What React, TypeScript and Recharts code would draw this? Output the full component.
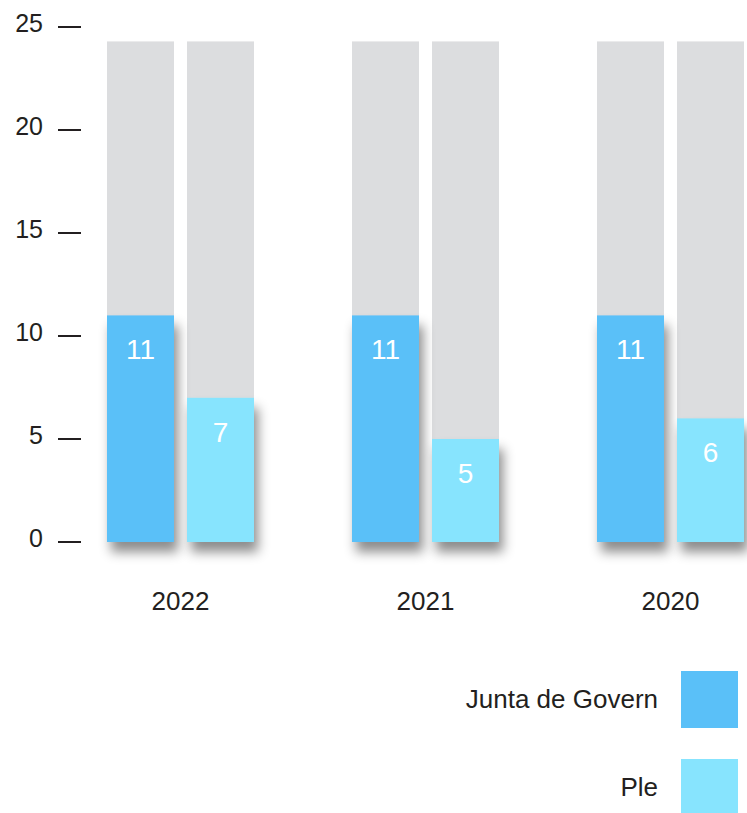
import { BarChart, Bar, XAxis, YAxis, Legend, LabelList } from "recharts";

const years = ["2022", "2021", "2020"];
const juntaValues = [11, 11, 11];
const pleValues = [7, 5, 6];
const capValues = [24.3, 24.3, 24.3];
const yTicks = [0, 5, 10, 15, 20, 25];

const data = years.map((year, i) => ({
  year,
  junta: juntaValues[i],
  ple: pleValues[i],
  capA: capValues[i],
  capB: capValues[i],
}));

const TEXT = "#231F20";
const GREY = "#DCDDDF";
const JUNTA = "#5AC0F8";
const PLE = "#87E4FE";
const FONT = "'Liberation Sans', Arial, Helvetica, sans-serif";

const YTick = (props: any) => {
  const { x, y, payload } = props;
  return (
    <g>
      <line x1={x} x2={x + 23} y1={y} y2={y} stroke={TEXT} strokeWidth={2} />
      <text x={x - 15} y={y + 4.5} textAnchor="end" fontSize={25} fill={TEXT} fontFamily={FONT}>
        {payload.value}
      </text>
    </g>
  );
};

const ShadowBar = (props: any) => {
  const { x, y, width, height, fill } = props;
  return <rect x={x} y={y} width={width} height={height} fill={fill} filter="url(#barShadow)" />;
};

const PlainBar = (props: any) => {
  const { x, y, width, height, fill } = props;
  return <rect x={x} y={y} width={width} height={height} fill={fill} />;
};

const renderLegend = (props: any) => {
  const items = (props.payload || []).filter((p: any) => p.type !== "none");
  return (
    <div style={{ display: "flex", flexDirection: "column", alignItems: "flex-end", gap: 31 }}>
      {items.map((item: any) => (
        <div key={item.value} style={{ display: "flex", alignItems: "center", gap: 23 }}>
          <span style={{ fontSize: 26, color: TEXT, fontFamily: FONT }}>{item.value}</span>
          <span style={{ display: "block", width: 57, height: 57, background: item.color }} />
        </div>
      ))}
    </div>
  );
};

export default function App() {
  return (
    <div
      style={{
        position: "absolute",
        left: 0,
        top: 0,
        width: 747,
        height: 813,
        overflow: "hidden",
        background: "#fff",
        fontFamily: FONT,
      }}
    >
      <BarChart
        width={793}
        height={813}
        data={data}
        margin={{ top: 27, right: 0, bottom: 191, left: 0 }}
        barSize={67}
        barGap={13}
      >
        <defs>
          <filter id="barShadow" x="-50%" y="-20%" width="200%" height="150%">
            <feDropShadow dx={4} dy={10} stdDeviation={6} floodColor="#000" floodOpacity={0.45} />
          </filter>
        </defs>
        <XAxis xAxisId="bg" dataKey="year" hide />
        <XAxis
          xAxisId="main"
          dataKey="year"
          axisLine={false}
          tickLine={false}
          tickSize={0}
          tickMargin={20}
          height={80}
          tick={{ fill: TEXT, fontSize: 26, fontFamily: FONT }}
        />
        <YAxis
          width={58}
          domain={[0, 25]}
          ticks={yTicks}
          axisLine={false}
          tickLine={false}
          tickSize={0}
          tickMargin={0}
          tick={<YTick />}
        />
        <Bar xAxisId="bg" dataKey="capA" fill={GREY} legendType="none" shape={<PlainBar />} isAnimationActive={false} />
        <Bar xAxisId="bg" dataKey="capB" fill={GREY} legendType="none" shape={<PlainBar />} isAnimationActive={false} />
        <Bar xAxisId="main" dataKey="junta" name="Junta de Govern" fill={JUNTA} shape={<ShadowBar />} isAnimationActive={false}>
          <LabelList dataKey="junta" position="insideTop" offset={24} fill="#fff" fontSize={28} fontFamily={FONT} />
        </Bar>
        <Bar xAxisId="main" dataKey="ple" name="Ple" fill={PLE} shape={<ShadowBar />} isAnimationActive={false}>
          <LabelList dataKey="ple" position="insideTop" offset={24} fill="#fff" fontSize={28} fontFamily={FONT} />
        </Bar>
        <Legend
          layout="vertical"
          align="center"
          verticalAlign="middle"
          content={renderLegend}
          wrapperStyle={{ left: 300, top: 671, width: 438 }}
        />
      </BarChart>
    </div>
  );
}
